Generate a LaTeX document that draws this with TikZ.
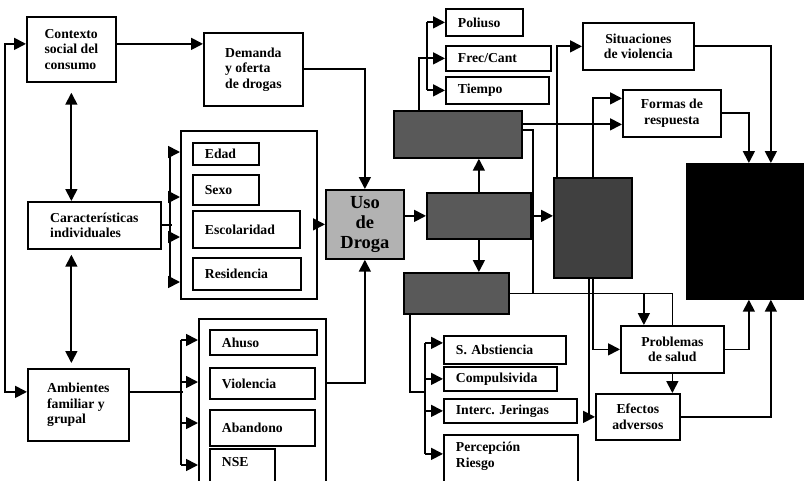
\documentclass[tikz,border=0pt]{standalone}
\usepackage{fontspec}
\setmainfont{Liberation Serif}
\usetikzlibrary{arrows.meta, positioning, calc}

\begin{document}
\begin{tikzpicture}[x=0.02cm, y=-0.02cm, line width=1pt,
    >={Triangle[length=0.24cm,width=0.24cm]},
    font=\fontsize{7.8}{8.8}\selectfont\bfseries,
    caja/.style={draw, anchor=north west, inner sep=0pt},
    item/.style={draw, anchor=north west, align=left, inner xsep=0.24cm, inner ysep=0pt},
    oscura/.style={caja, fill=black!65}]
  \useasboundingbox (0,0) rectangle (804,480);
  \clip (0,0) rectangle (804,480);

  % Columna izquierda
  \node[caja, align=left, minimum width=1.78cm, minimum height=1.30cm] (ctx) at (26,16) {Contexto\\social del\\consumo};
  \node[caja, align=left, minimum width=2.66cm, minimum height=0.94cm] (carac) at (27,201) {Características\\individuales};
  \node[caja, align=left, minimum width=2.02cm, minimum height=1.44cm] (amb) at (27,368) {Ambientes\\familiar y\\grupal};
  \node[caja, align=left, minimum width=1.98cm, minimum height=1.46cm] (dem) at (203,32) {Demanda\\y oferta\\de drogas};

  % Grupo individual
  \node[caja, minimum width=2.72cm, minimum height=3.36cm] (grp1) at (180,130) {};
  \node[item, text width=0.84cm, minimum height=0.44cm] (edad) at (192,142) {Edad};
  \node[item, text width=0.84cm, minimum height=0.60cm] (sexo) at (192,174) {Sexo};
  \node[item, text width=1.66cm, minimum height=0.74cm] (esc) at (192,210) {Escolaridad};
  \node[item, text width=1.68cm, minimum height=0.64cm] (res) at (192,257) {Residencia};

  % Grupo familiar
  \node[caja, minimum width=2.54cm, minimum height=3.44cm] (grp2) at (198,318) {};
  \node[item, text width=1.66cm, minimum height=0.50cm] (ahuso) at (209,329) {Ahuso};
  \node[item, text width=1.62cm, minimum height=0.62cm] (viol) at (209,367) {Violencia};
  \node[item, text width=1.62cm, minimum height=0.72cm] (aband) at (209,409) {Abandono};
  \node[item, text width=0.82cm, text height=0.36cm, text depth=0.48cm] (nse) at (209,448) {NSE};

  % Centro
  \node[caja, fill=black!30, align=center, minimum width=1.56cm, minimum height=1.38cm,
        font=\fontsize{10.5}{11.5}\selectfont\bfseries] (uso) at (325,189) {Uso\\de\\Droga};
  \node[oscura, minimum width=2.08cm, minimum height=0.92cm] (b1) at (426,192) {};
  \node[oscura, minimum width=2.56cm, minimum height=0.94cm] (b2) at (393,110) {};
  \node[oscura, minimum width=2.10cm, minimum height=0.82cm] (b3) at (403,272) {};
  \node[oscura, fill=black!75, minimum width=1.56cm, minimum height=2.00cm] (b4) at (553,177) {};

  % Patron de consumo
  \node[item, text width=1.06cm, minimum height=0.54cm] (poli) at (445,8) {Poliuso};
  \node[item, text width=1.62cm, minimum height=0.50cm] (frec) at (445,45) {Frec/Cant};
  \node[item, text width=1.58cm, minimum height=0.54cm] (tiem) at (445,76) {Tiempo};

  % Dependencia
  \node[item, text width=1.96cm, minimum height=0.56cm] (abst) at (443,335) {S. Abstiencia};
  \node[item, text width=1.78cm, minimum height=0.48cm] (comp) at (443,366) {Compulsivida};
  \node[item, text width=2.18cm, minimum height=0.48cm] (inter) at (443,398) {Interc.\ Jeringas};
  \node[item, text width=2.20cm, text height=0.34cm, text depth=0.78cm] (perc) at (443,434) {Percepción\\Riesgo};

  % Consecuencias
  \node[caja, align=center, minimum width=2.22cm, minimum height=0.94cm] (sit) at (582,22) {Situaciones\\de violencia};
  \node[caja, align=center, minimum width=1.96cm, minimum height=0.94cm] (formas) at (622,89) {Formas de\\respuesta};
  \node[caja, align=center, minimum width=2.06cm, minimum height=0.94cm] (prob) at (620,325) {Problemas\\de salud};
  \node[caja, align=center, minimum width=1.68cm, minimum height=0.92cm] (efec) at (595,393) {Efectos\\adversos};
  \node[caja, fill=black, minimum width=2.36cm, minimum height=2.70cm] (blk) at (686,163) {};

  % Flechas de la izquierda
  \draw[<->] ([yshift=0.26cm]amb.west) -- ++(-22,0) |- ([yshift=0.11cm]ctx.west);
  \draw[<->, shorten <=0.2cm] (ctx.south) -- (ctx.south |- carac.north);
  \draw[<->, shorten <=0.1cm, shorten >=0.1cm] (ctx.south |- carac.south) -- (ctx.south |- amb.north);
  \draw[->] ([yshift=0.11cm]ctx.east) -- ([yshift=0.11cm]ctx.east -| dem.west);

  % Corchetes de los grupos
  \draw (carac.east) -- ++(10,0);
  \draw (grp1.north west) ++(-10,22) -- ++(0,130);
  \foreach \dy in {22,67,107,152}
    \draw[->] (grp1.north west) ++(-10,\dy) -- ++(10,0);
  \draw ([yshift=0.26cm]amb.east) -- ++(53,0);
  \draw (grp2.north west) ++(-17,22) -- ++(0,125);
  \foreach \dy in {22,64,105,147}
    \draw[->] (grp2.north west) ++(-17,\dy) -- ++(17,0);

  % Hacia el uso de droga
  \draw[->] (dem.east) -| (uso.north);
  \draw[->] (grp1.east |- uso.west) -- (uso.west);
  \draw[->] (grp2.north east) ++(0,65) -| (uso.south);
  \draw[->] (uso.east |- b1.west) -- (b1.west);

  % Cajas oscuras
  \draw[->] (b1.north) -- (b1.north |- b2.south);
  \draw[->] (b1.south) -- (b1.south |- b3.north);
  \draw[->] (b1.east) -- (b1.east -| b4.west);
  \draw[->] ([xshift=-0.78cm]b2.north) |- (frec.west);
  \draw ([xshift=-0.36cm]poli.west) -- ([xshift=-0.36cm]tiem.west);
  \draw[->] ([xshift=-0.36cm]poli.west) -- (poli.west);
  \draw[->] ([xshift=-0.36cm]tiem.west) -- (tiem.west);
  \coordinate (b2r) at ([yshift=0.2cm]b2.east);
  \draw[->] (b2r) -- (b2r -| formas.west);
  \draw ([yshift=0.08cm]b2.east) -- ++(10,0) |- (b3.east);
  \draw (b3.east) -| (prob.north);
  \draw[->] ([xshift=-0.57cm]prob.north) ++(0,-32.5) -- ([xshift=-0.57cm]prob.north);
  \draw ([xshift=-0.93cm]b3.south) |- ([xshift=-0.36cm]comp.south west);
  \draw ([xshift=-0.36cm,yshift=0.14cm]abst.west) -- ([xshift=-0.36cm,yshift=0.18cm]perc.west);
  \foreach \n/\s in {abst/0.14, comp/0, inter/0, perc/0.18}
    \draw[->] ([xshift=-0.36cm,yshift=\s cm]\n.west) -- ([yshift=\s cm]\n.west);

  % Consecuencias
  \draw[->] ([xshift=0.08cm]b4.north west) |- (sit.west);
  \draw[->] (b4.north) |- ([yshift=0.3cm]formas.west);
  \draw[->] (b4.south) |- (prob.west);
  \draw[->] ([xshift=-0.08cm]b4.south) |- (efec.west);
  \draw[->] (prob.south) -- (prob.south |- efec.north);
  \draw[->] (sit.east) -| ([xshift=0.5cm]blk.north);
  \draw[->] (formas.east) -| ([xshift=0.06cm]blk.north);
  \draw[->] (prob.east) -| ([xshift=0.06cm]blk.south);
  \draw[->] (efec.east) -| ([xshift=0.5cm]blk.south);
\end{tikzpicture}
\end{document}
